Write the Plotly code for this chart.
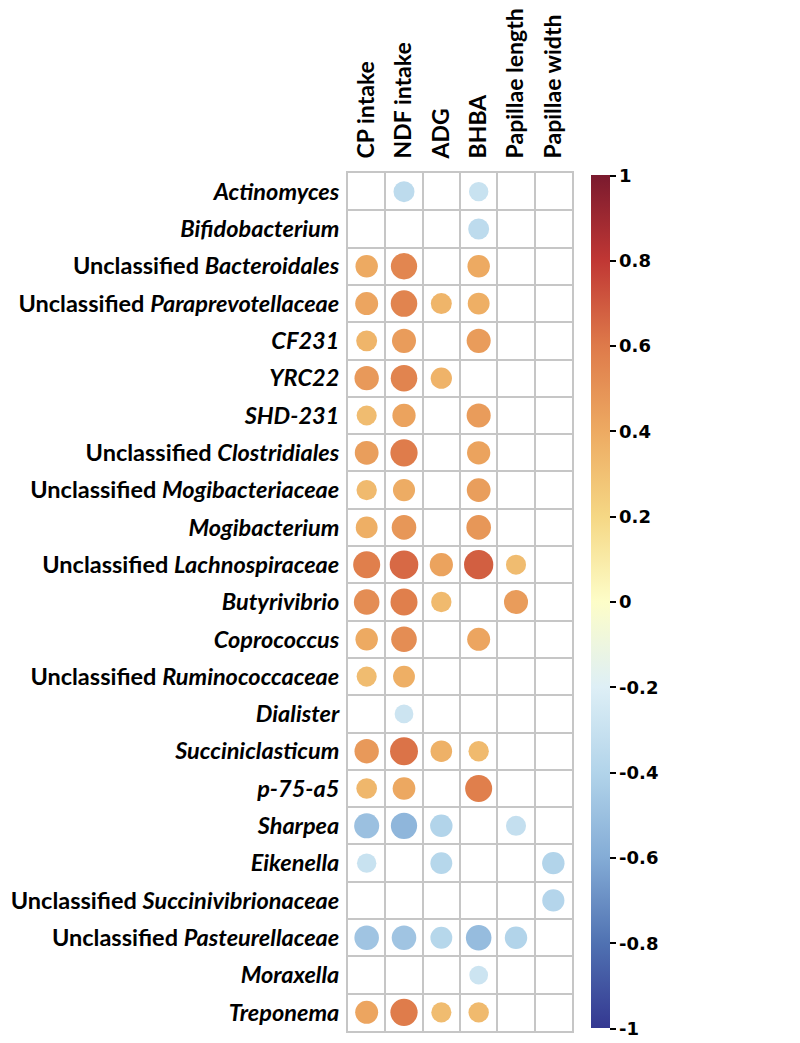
import numpy as np
import plotly.graph_objects as go

variables = ["CP intake", "NDF intake", "ADG", "BHBA", "Papillae length", "Papillae width"]

taxa = [
    "<i>Actinomyces</i>",
    "<i>Bifidobacterium</i>",
    "Unclassified <i>Bacteroidales</i>",
    "Unclassified <i>Paraprevotellaceae</i>",
    "<i>CF231</i>",
    "<i>YRC22</i>",
    "<i>SHD-231</i>",
    "Unclassified <i>Clostridiales</i>",
    "Unclassified <i>Mogibacteriaceae</i>",
    "<i>Mogibacterium</i>",
    "Unclassified <i>Lachnospiraceae</i>",
    "<i>Butyrivibrio</i>",
    "<i>Coprococcus</i>",
    "Unclassified <i>Ruminococcaceae</i>",
    "<i>Dialister</i>",
    "<i>Succiniclasticum</i>",
    "<i>p-75-a5</i>",
    "<i>Sharpea</i>",
    "<i>Eikenella</i>",
    "Unclassified <i>Succinivibrionaceae</i>",
    "Unclassified <i>Pasteurellaceae</i>",
    "<i>Moraxella</i>",
    "<i>Treponema</i>",
]

N = None
# correlation values per taxon: CP, NDF, ADG, BHBA, Papillae length, Papillae width
corr = [
    [N, -0.35, N, -0.30, N, N],
    [N, N, N, -0.35, N, N],
    [0.40, 0.55, N, 0.40, N, N],
    [0.42, 0.56, 0.35, 0.38, N, N],
    [0.35, 0.46, N, 0.46, N, N],
    [0.47, 0.56, 0.36, N, N, N],
    [0.32, 0.43, N, 0.46, N, N],
    [0.45, 0.59, N, 0.43, N, N],
    [0.33, 0.39, N, 0.45, N, N],
    [0.38, 0.48, N, 0.48, N, N],
    [0.58, 0.65, 0.43, 0.68, 0.32, N],
    [0.52, 0.58, 0.33, N, 0.46, N],
    [0.40, 0.52, N, 0.42, N, N],
    [0.32, 0.38, N, N, N, N],
    [N, -0.28, N, N, N, N],
    [0.47, 0.62, 0.37, 0.33, N, N],
    [0.34, 0.41, N, 0.58, N, N],
    [-0.50, -0.55, -0.40, N, -0.32, N],
    [-0.30, N, -0.38, N, N, -0.40],
    [N, N, N, N, N, -0.39],
    [-0.48, -0.48, -0.38, -0.52, -0.40, N],
    [N, N, N, -0.28, N, N],
    [0.42, 0.59, 0.32, 0.33, N, N],
]

cbar_vals = [1, 0.8, 0.6, 0.4, 0.2, 0, -0.2, -0.4, -0.6, -0.8, -1]
cbar_text = ["1", "0.8", "0.6", "0.4", "0.2", "0", "-0.2", "-0.4", "-0.6", "-0.8", "-1"]

colorscale = [
    [0.0, "rgb(52,56,145)"],
    [0.1, "rgb(80,114,178)"],
    [0.2, "rgb(132,172,214)"],
    [0.3, "rgb(178,212,234)"],
    [0.4, "rgb(222,239,246)"],
    [0.5, "rgb(253,253,200)"],
    [0.6, "rgb(245,215,132)"],
    [0.7, "rgb(237,170,98)"],
    [0.8, "rgb(222,122,74)"],
    [0.9, "rgb(192,55,52)"],
    [1.0, "rgb(122,26,46)"],
]

W, H = 800, 1043
L, T = 340, 165
R = W - 564
B = H - 1023
cell = (W - L - R) / len(variables)

xs, ys, vals = [], [], []
for i, row in enumerate(corr):
    for j, v in enumerate(row):
        if v is not None:
            xs.append(j)
            ys.append(i)
            vals.append(v)
vals = np.array(vals)
sizes = 0.95 * cell * np.sqrt(np.abs(vals))

fig = go.Figure(go.Scatter(
    x=xs, y=ys, mode="markers",
    marker=dict(
        size=sizes, sizemode="diameter", color=vals, opacity=1,
        colorscale=colorscale, cmin=-1, cmax=1, line=dict(width=0),
        colorbar=dict(
            x=1.085, xanchor="left", xref="paper", xpad=0, ypad=0,
            thickness=19, len=0.994, y=0.5, yanchor="middle",
            tickvals=cbar_vals, ticktext=cbar_text,
            ticks="outside", ticklen=6, tickwidth=1.5, tickcolor="black",
            outlinewidth=0,
            tickfont=dict(family="DejaVu Sans", size=18, color="black", weight="bold"),
        ),
    ),
    hoverinfo="skip", showlegend=False,
))

grid = "#C6C6C6"
fig.update_xaxes(
    range=[-0.5, len(variables) - 0.5], side="top",
    tickmode="array", tickvals=list(range(len(variables))), ticktext=variables,
    tickangle=-90, ticks="", showgrid=False, zeroline=False,
    showline=True, mirror=True, linecolor=grid, linewidth=2,
    minor=dict(tick0=0.5, dtick=1, showgrid=True, gridcolor=grid, gridwidth=2),
    tickfont=dict(family="Lato", size=23, color="black", weight="bold"),
    ticklabelstandoff=8, fixedrange=True, automargin=False,
)
fig.update_yaxes(
    range=[len(taxa) - 0.5, -0.5],
    tickmode="array", tickvals=list(range(len(taxa))), ticktext=taxa,
    ticks="", showgrid=False, zeroline=False,
    showline=True, mirror=True, linecolor=grid, linewidth=2,
    minor=dict(tick0=0.5, dtick=1, showgrid=True, gridcolor=grid, gridwidth=2),
    tickfont=dict(family="Lato", size=23.5, color="black", weight="bold"),
    ticklabelstandoff=2, fixedrange=True, automargin=False,
)
fig.update_layout(
    width=W, height=H, autosize=False,
    margin=dict(l=L, r=R, t=T, b=B, autoexpand=False),
    plot_bgcolor="white", paper_bgcolor="white",
)
fig.write_html("out.html")
